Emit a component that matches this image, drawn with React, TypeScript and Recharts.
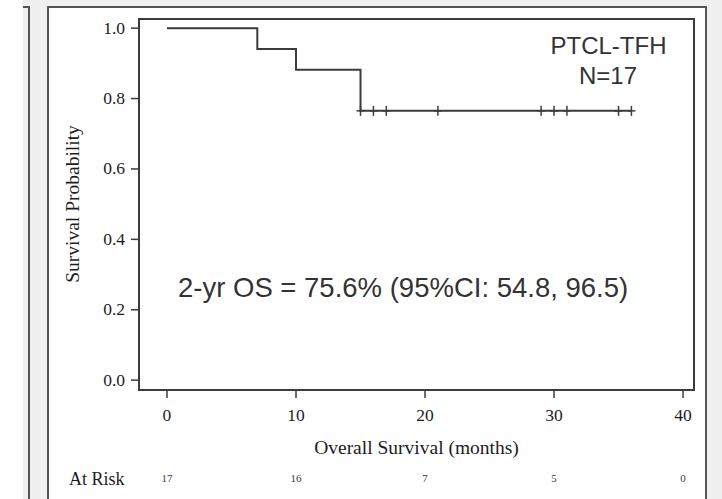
import { ComposedChart, Line, Scatter, XAxis, YAxis, ReferenceArea } from "recharts";

// Kaplan-Meier steps
const eventTimes = [0, 7, 10, 15, 36];
const survival = [1.0, 0.941, 0.882, 0.765, 0.765];

// censored observations (+ marks)
const censorTimes = [15, 16, 17, 21, 29, 30, 31, 35, 36];
const censorSurvival = [0.765, 0.765, 0.765, 0.765, 0.765, 0.765, 0.765, 0.765, 0.765];

const xTicks = [0, 10, 20, 30, 40];
const yTicks = [0, 0.2, 0.4, 0.6, 0.8, 1.0];
const atRisk = [17, 16, 7, 5, 0];

const curve = eventTimes.map((t, i) => ({ t, s: survival[i] }));
const censored = censorTimes.map((t, i) => ({ t, c: censorSurvival[i] }));

const X_DOMAIN: [number, number] = [-2.17, 40.85];
const Y_DOMAIN: [number, number] = [-0.028, 1.026];
const INK = "#3c3c3c";
const TXT = "#1c1c1c";
const SERIF = "'Liberation Serif', 'Times New Roman', serif";
const SANS = "'Liberation Sans', Arial, sans-serif";

const Plus = (props: any) => {
  const { cx, cy } = props;
  if (cx == null || cy == null) return null;
  return (
    <g stroke={INK} strokeWidth={1.5}>
      <line x1={cx - 4} y1={cy} x2={cx + 4} y2={cy} />
      <line x1={cx} y1={cy - 5} x2={cx} y2={cy + 5} />
    </g>
  );
};

// x tick: month value, plus the number at risk lower down
const MonthTick = (props: any) => {
  const { x, y, payload } = props;
  const i = xTicks.indexOf(payload.value);
  return (
    <g>
      <text x={x} y={y + 12.5} textAnchor="middle" fontFamily={SERIF} fontSize={17.5} fill={TXT}>
        {payload.value}
      </text>
      <text x={x} y={y + 74} textAnchor="middle" fontFamily={SERIF} fontSize={11} fill="#3a3a3a">
        {i >= 0 ? atRisk[i] : ""}
      </text>
    </g>
  );
};

const ProbTick = (props: any) => {
  const { x, y, payload } = props;
  return (
    <text x={x} y={y + 5.5} textAnchor="end" fontFamily={SERIF} fontSize={17.5} fill={TXT}>
      {Number(payload.value).toFixed(1)}
    </text>
  );
};

export default function App() {
  return (
    <div style={{ position: "absolute", left: 0, top: 0, width: 722, height: 499, background: "#fff", overflow: "hidden" }}>
      {/* page frames */}
      <div style={{ position: "absolute", left: 23, top: 0, width: 699, height: 499, background: "#f0f0f0" }} />
      <div style={{ position: "absolute", left: 23, top: 6, width: 7, height: 2, background: "#555" }} />
      <div style={{ position: "absolute", left: 28, top: 6, width: 2, height: 493, background: "#555" }} />
      <div
        style={{
          position: "absolute",
          boxSizing: "border-box",
          left: 47,
          top: 6,
          width: 660,
          height: 495,
          background: "#fff",
          borderLeft: "2px solid #555",
          borderTop: "2px solid #555",
          borderRight: "2px solid #555",
        }}
      />

      <div style={{ position: "absolute", left: 0, top: 0 }}>
        <ComposedChart width={722} height={499} margin={{ top: 19, right: 28, bottom: 0, left: 0 }}>
          <XAxis
            dataKey="t"
            type="number"
            domain={X_DOMAIN}
            allowDataOverflow
            ticks={xTicks}
            height={109}
            tickSize={8}
            tickMargin={10}
            axisLine={{ stroke: INK, strokeWidth: 2 }}
            tickLine={{ stroke: INK, strokeWidth: 1.5 }}
            tick={<MonthTick />}
          />
          <YAxis
            type="number"
            domain={Y_DOMAIN}
            allowDataOverflow
            ticks={yTicks}
            width={139}
            tickSize={8}
            tickMargin={6}
            axisLine={{ stroke: INK, strokeWidth: 2 }}
            tickLine={{ stroke: INK, strokeWidth: 1.5 }}
            tick={<ProbTick />}
          />
          <ReferenceArea
            x1={X_DOMAIN[0]}
            x2={X_DOMAIN[1]}
            y1={Y_DOMAIN[0]}
            y2={Y_DOMAIN[1]}
            fill="none"
            stroke={INK}
            strokeWidth={2}
            fillOpacity={0}
          />
          <Line
            data={curve}
            dataKey="s"
            type="stepAfter"
            stroke={INK}
            strokeWidth={2}
            dot={false}
            activeDot={false}
            isAnimationActive={false}
          />
          <Scatter data={censored} dataKey="c" shape={<Plus />} isAnimationActive={false} />
        </ComposedChart>
      </div>

      {/* annotations */}
      <svg width={722} height={499} style={{ position: "absolute", left: 0, top: 0, pointerEvents: "none" }}>
        <text x={608.5} y={54} textAnchor="middle" fontFamily={SANS} fontSize={24} fill="#333">
          PTCL-TFH
        </text>
        <text x={608} y={84} textAnchor="middle" fontFamily={SANS} fontSize={24} fill="#333">
          N=17
        </text>
        <text x={178} y={297} fontFamily={SANS} fontSize={27.5} fill="#333">
          2-yr OS = 75.6% (95%CI: 54.8, 96.5)
        </text>
        <text
          transform="translate(79,204) rotate(-90)"
          textAnchor="middle"
          fontFamily={SERIF}
          fontSize={19.5}
          fill={TXT}
        >
          Survival Probability
        </text>
        <text x={416.5} y={453.5} textAnchor="middle" fontFamily={SERIF} fontSize={19.5} fill={TXT}>
          Overall Survival (months)
        </text>
        <text x={69} y={485} fontFamily={SERIF} fontSize={18} fill={TXT}>
          At Risk
        </text>
      </svg>
    </div>
  );
}
